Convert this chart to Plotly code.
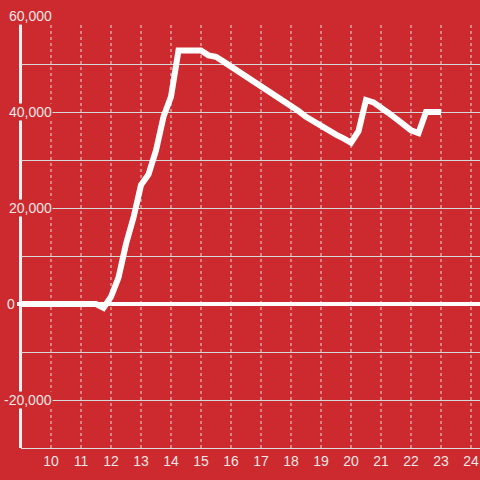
import plotly.graph_objects as go

# data: quarter-hour steps from 9.0 to 23.0
x_vals = [9 + 0.25 * i for i in range(57)]
y_vals = [
    0, 0, 0, 0,            # 9.00-9.75
    0, 0, 0, 0,            # 10.00-10.75
    0, 0, 0, -800,         # 11.00-11.75
    1500, 5500, 12500, 18000,   # 12.00-12.75
    24800, 27000, 32000, 39000, # 13.00-13.75
    43200, 52800, 52800, 52800, # 14.00-14.75
    52800, 51800, 51500, 50500, # 15.00-15.75
    49500, 48500, 47300, 46200, # 16.00-16.75
    45200, 44400, 43500, 42300, # 17.00-17.75
    41200, 40200, 39000, 38000, # 18.00-18.75
    37300, 36000, 35300, 34500, # 19.00-19.75
    33600, 36000, 42500, 42000, # 20.00-20.75
    41000, 39800, 38600, 37400, # 21.00-21.75
    36200, 35600, 40000, 40000, # 22.00-22.75
    40000,                      # 23.00
]

x_ticks = list(range(10, 25))
y_label_vals = [60000, 40000, 20000, 0, -20000]
y_label_text = ["60,000", "40,000", "20,000", "0", "-20,000"]

BG = "#CC2A2E"
TXT = "#F4E6E6"
FONT = "Liberation Sans, Arial, sans-serif"
LEFT = 21
PLOT_W = 480.0 - LEFT

fig = go.Figure()
fig.add_trace(go.Scatter(
    x=x_vals, y=y_vals, mode="lines",
    line=dict(color="#FFFFFF", width=6),
    hoverinfo="skip",
))

shapes = []
for t in x_ticks:
    shapes.append(dict(type="line", xref="x", yref="y", x0=t, x1=t, y0=-30000, y1=58300,
                       line=dict(color="#E8DADA", width=1, dash="dot"), layer="below"))
# y axis line
shapes.append(dict(type="line", xref="paper", yref="y", x0=-0.5 / PLOT_W, x1=-0.5 / PLOT_W,
                   y0=-30000, y1=58300, line=dict(color="#F2F2F2", width=3), layer="below"))
# zero line extending slightly left of the axis
shapes.append(dict(type="line", xref="paper", yref="y", x0=-4 / PLOT_W, x1=1, y0=0, y1=0,
                   line=dict(color="#FFFFFF", width=4), layer="above"))

annotations = []
for v, txt in zip(y_label_vals, y_label_text):
    xpx = -5 if v == 0 else 31.5   # right edge, px from plot left
    annotations.append(dict(x=xpx / PLOT_W, y=v, xref="paper", yref="y", text=txt,
                            showarrow=False, xanchor="right", yanchor="middle",
                            bgcolor=BG, borderpad=0,
                            font=dict(family=FONT, size=14, color=TXT)))

fig.update_layout(
    width=480, height=480,
    paper_bgcolor=BG, plot_bgcolor=BG,
    margin=dict(l=LEFT, r=0, t=16, b=32, autoexpand=False),
    showlegend=False,
    font=dict(family=FONT, size=14, color=TXT),
    shapes=shapes,
    annotations=annotations,
    xaxis=dict(range=[9, 24.3], tickmode="array", tickvals=x_ticks,
               ticktext=[str(t) for t in x_ticks], showgrid=False, zeroline=False,
               showline=True, linecolor="#DDDDDD", linewidth=1, ticks="",
               automargin=False,
               tickfont=dict(family=FONT, size=14, color=TXT)),
    yaxis=dict(range=[-30000, 60000.5], dtick=10000, tick0=0, showticklabels=False,
               showgrid=True, gridcolor="#D8D8D8", gridwidth=1, automargin=False,
               zeroline=False, ticks=""),
)

fig.write_html("out.html", config={"displayModeBar": False},
               post_script="document.body.style.margin='0';document.body.style.padding='0';")
